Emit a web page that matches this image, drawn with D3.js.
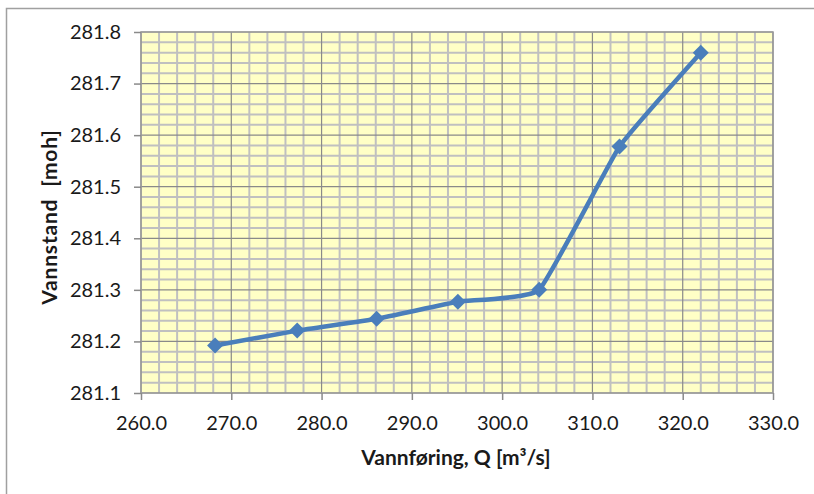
<!DOCTYPE html>
<html><head><meta charset="utf-8">
<script src="https://cdn.jsdelivr.net/npm/d3@7"></script>
<style>
html,body{margin:0;padding:0;background:#fff;}
svg{display:block;font-family:Lato,"Open Sans",sans-serif;}
</style></head>
<body><svg id="c" width="814" height="494"></svg>
<script>
const qValues = [268.2, 277.3, 286.1, 295.1, 304.1, 313.0, 322.0];
const levelValues = [281.192, 281.221, 281.244, 281.277, 281.300, 281.578, 281.760];
const xTicks = [260, 270, 280, 290, 300, 310, 320, 330];
const yTicks = [281.1, 281.2, 281.3, 281.4, 281.5, 281.6, 281.7, 281.8];
const xTitle = "Vannføring, Q [m³/s]";
const yTitle = "Vannstand  [moh]";

const svg = d3.select("#c");
const L = 141, R = 773, T = 32, B = 393;
const x = d3.scaleLinear().domain([260, 330]).range([L, R]);
const y = d3.scaleLinear().domain([281.1, 281.8]).range([B, T]);

// chart border (only top/left visible)
svg.append("rect").attr("x", 6.5).attr("y", 8.5).attr("width", 900).attr("height", 600)
  .attr("fill", "#fff").attr("stroke", "#a0a0a0").attr("stroke-width", 1.5);

// plot area
svg.append("rect").attr("x", L).attr("y", T).attr("width", R - L).attr("height", B - T)
  .attr("fill", "#ffffc6");

// minor grid
const xMinor = d3.range(260, 330.001, 2).filter(v => Math.abs(v % 10) > 1e-6);
const yMinor = d3.range(0, 36).map(i => 281.1 + i * 0.02).filter((v, i) => i % 5 !== 0);
const g = svg.append("g");
g.selectAll(".xm").data(xMinor).join("line")
  .attr("x1", d => x(d)).attr("x2", d => x(d)).attr("y1", T).attr("y2", B)
  .attr("stroke", "#c0c0c0").attr("stroke-width", 2);
g.selectAll(".ym").data(yMinor).join("line")
  .attr("x1", L).attr("x2", R).attr("y1", d => y(d)).attr("y2", d => y(d))
  .attr("stroke", "#c0c0c0").attr("stroke-width", 2);
// major grid
g.selectAll(".xM").data(xTicks).join("line")
  .attr("x1", d => x(d)).attr("x2", d => x(d)).attr("y1", T).attr("y2", B)
  .attr("stroke", "#8a8a8a").attr("stroke-width", 1.2);
g.selectAll(".yM").data(yTicks).join("line")
  .attr("x1", L).attr("x2", R).attr("y1", d => y(d)).attr("y2", d => y(d))
  .attr("stroke", "#8a8a8a").attr("stroke-width", 1.2);
// plot border
svg.append("rect").attr("x", L).attr("y", T).attr("width", R - L).attr("height", B - T)
  .attr("fill", "none").attr("stroke", "#9a9a9a").attr("stroke-width", 1.5);

// axes
const xAxis = d3.axisBottom(x).tickValues(xTicks).tickFormat(d3.format(".1f")).tickSize(7).tickPadding(16);
const yAxis = d3.axisLeft(y).tickValues(yTicks).tickFormat(d3.format(".1f")).tickSize(7).tickPadding(13);
const gx = svg.append("g").attr("transform", `translate(0,${B})`).call(xAxis);
const gy = svg.append("g").attr("transform", `translate(${L},0)`).call(yAxis);
[gx, gy].forEach(a => {
  a.select(".domain").remove();
  a.selectAll(".tick line").attr("stroke", "#8a8a8a").attr("stroke-width", 1.5);
  a.selectAll(".tick text").attr("fill", "#1a1a1a").attr("font-size", 20).attr("font-family", "Lato, sans-serif");
});

// line
const pts = qValues.map((q, i) => [q, levelValues[i]]);
svg.append("path").datum(pts)
  .attr("d", d3.line().x(d => x(d[0])).y(d => y(d[1])).curve(d3.curveCardinal.tension(0.65)))
  .attr("fill", "none").attr("stroke", "#4a7ebb").attr("stroke-width", 4.5)
  .attr("stroke-linejoin", "round");
// markers (square diamonds)
const dia = "M0,-8L8,0L0,8L-8,0Z";
svg.selectAll(".mk").data(pts).join("path")
  .attr("d", dia)
  .attr("transform", d => `translate(${x(d[0])},${y(d[1])})`)
  .attr("fill", "#4a7ebb");

// titles
svg.append("text").attr("x", 456).attr("y", 465).attr("text-anchor", "middle")
  .attr("font-size", 21).attr("font-weight", "bold").attr("fill", "#1a1a1a").text(xTitle);
svg.append("text").attr("transform", "translate(57,217) rotate(-90)").attr("text-anchor", "middle")
  .attr("font-size", 21).attr("font-weight", "bold").attr("fill", "#1a1a1a")
  .attr("letter-spacing", 0.8)
  .style("white-space", "pre").text(yTitle);
</script></body></html>
